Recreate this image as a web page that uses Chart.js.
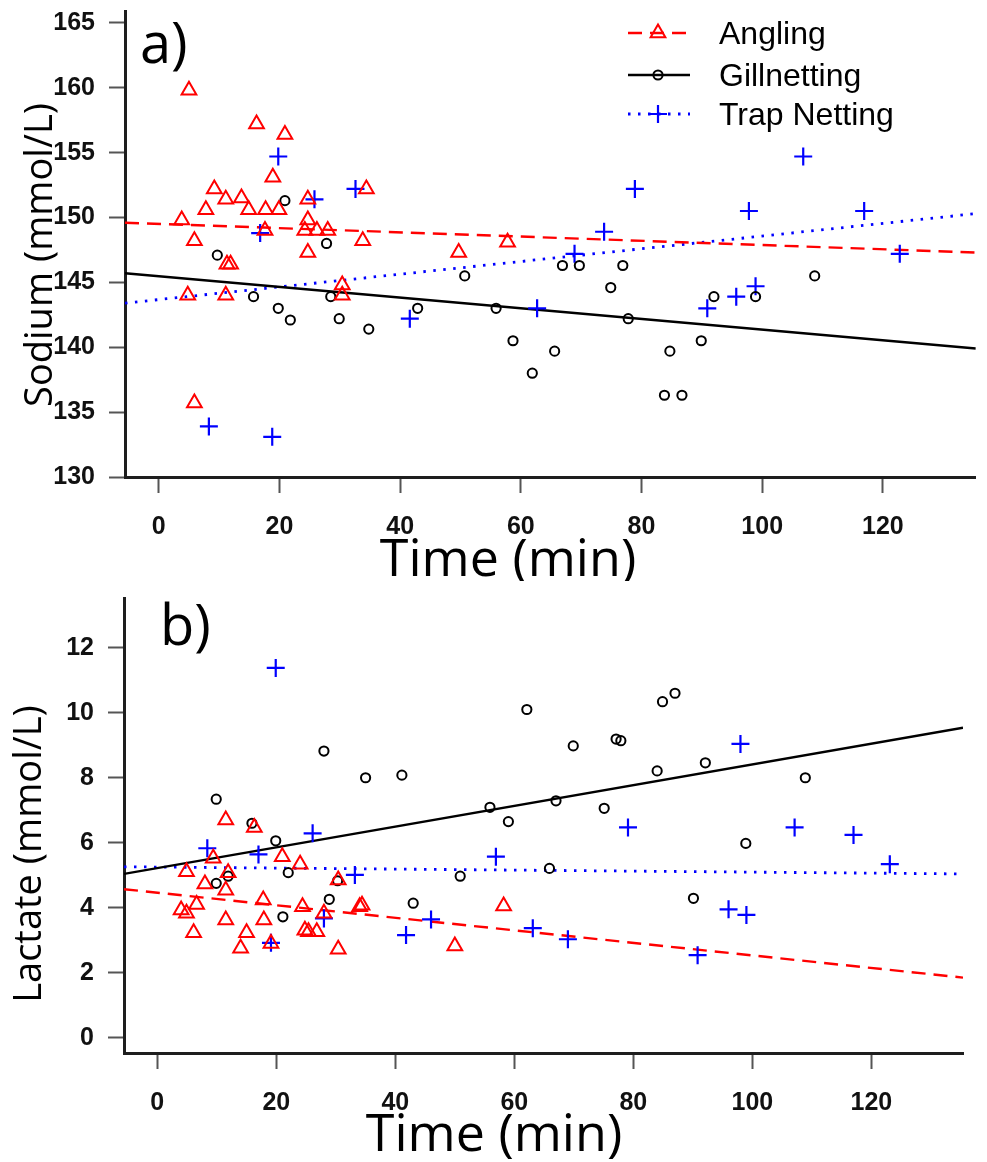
<!DOCTYPE html>
<html>
<head>
<meta charset="utf-8">
<title>Sodium and lactate over time by capture method</title>
<script src="https://cdn.jsdelivr.net/npm/chart.js@4.4.1/dist/chart.umd.min.js"></script>
<style>
    html, body { margin: 0; padding: 0; background: #fff; }
    #wrap { position: relative; width: 987px; height: 1162px; }
    .panel { position: absolute; left: 0; width: 987px; height: 581px; }
    #panelA { top: 0; }
    #panelB { top: 581px; }
</style>
</head>
<body>
<div id="wrap">
    <div class="panel" id="panelA"><canvas id="sodiumChart" width="987" height="581"></canvas></div>
    <div class="panel" id="panelB"><canvas id="lactateChart" width="987" height="581"></canvas></div>
</div>
<script>
// ---- data ----
const groups = ['Angling', 'Gillnetting', 'Trap Netting'];
const timeTicks = [0, 20, 40, 60, 80, 100, 120];
const sodiumTicks = [130, 135, 140, 145, 150, 155, 160, 165];
const lactateTicks = [0, 2, 4, 6, 8, 10, 12];

// a) Sodium (mmol/L)
const anglingTimeA = [5, 16.2, 20.9, 18.9, 9.2, 34.4, 11.1, 13.7, 7.8, 14.9, 17.7, 19.9, 24.7, 3.8, 24.7, 17.6, 24.2, 26.2, 28.0, 5.9, 33.8, 24.7, 11.3, 11.9, 30.4, 4.8, 11.1, 30.4, 5.9, 49.7, 57.8];
const anglingSodium = [159.8, 157.2, 156.4, 153.1, 152.2, 152.2, 151.4, 151.5, 150.6, 150.6, 150.6, 150.6, 151.4, 149.8, 149.8, 149.0, 149.0, 149.0, 149.0, 148.2, 148.2, 147.3, 146.4, 146.4, 144.8, 144.0, 144.0, 144.0, 135.7, 147.3, 148.1];
const gillTimeA = [20.9, 27.8, 9.7, 15.7, 28.5, 19.8, 21.8, 29.9, 34.8, 42.9, 50.7, 55.9, 58.7, 61.9, 65.6, 66.9, 69.7, 74.9, 76.9, 77.8, 83.8, 86.7, 84.7, 89.9, 92.0, 98.9, 108.7];
const gillSodium = [151.3, 148.0, 147.1, 143.9, 143.9, 143.0, 142.1, 142.2, 141.4, 143.0, 145.5, 143.0, 140.5, 138.0, 139.7, 146.3, 146.3, 144.6, 146.3, 142.2, 136.3, 136.3, 139.7, 140.5, 143.9, 143.9, 145.5];
const trapTimeA = [19.8, 25.8, 32.6, 16.8, 41.6, 62.7, 8.3, 18.8, 106.8, 78.9, 97.8, 116.9, 73.8, 68.9, 122.8, 98.9, 95.7, 90.9];
const trapSodium = [154.7, 151.4, 152.2, 148.8, 142.2, 143.0, 133.9, 133.1, 154.7, 152.2, 150.5, 150.5, 148.9, 147.2, 147.2, 144.7, 143.9, 143.0];

// b) Lactate (mmol/L)
const anglingTimeB = [11.5, 16.3, 9.4, 21.0, 24.0, 4.9, 11.9, 8.0, 11.5, 30.4, 17.8, 6.6, 4.0, 4.9, 24.4, 28.0, 34.4, 34.0, 11.5, 17.9, 6.1, 15.0, 24.8, 26.8, 25.4, 14.0, 19.1, 30.4, 50.0, 58.2];
const anglingLactate = [6.70, 6.47, 5.52, 5.57, 5.34, 5.11, 5.08, 4.73, 4.54, 4.85, 4.24, 4.10, 3.93, 3.83, 4.03, 3.83, 4.08, 4.03, 3.62, 3.62, 3.23, 3.23, 3.31, 3.26, 3.26, 2.75, 2.90, 2.72, 2.82, 4.05];
const gillTimeB = [9.9, 15.9, 19.9, 28.0, 35.0, 41.1, 62.1, 55.9, 59.0, 67.0, 65.9, 22.0, 9.9, 11.9, 30.3, 28.9, 43.0, 50.9, 21.1, 84.9, 87.0, 69.9, 77.1, 77.9, 92.1, 84.0, 108.9, 75.1, 98.9, 90.1];
const gillLactate = [7.34, 6.60, 6.06, 8.82, 8.00, 8.08, 10.10, 7.09, 6.65, 7.29, 5.21, 5.08, 4.75, 4.97, 4.83, 4.26, 4.14, 4.97, 3.72, 10.34, 10.60, 8.98, 9.19, 9.14, 8.46, 8.21, 8.00, 7.06, 5.98, 4.29];
const trapTimeB = [19.9, 26.1, 8.4, 17.0, 56.9, 33.2, 28.0, 46.0, 19.1, 41.8, 63.1, 98.0, 79.1, 107.1, 117.0, 123.1, 69.0, 90.8, 96.0, 99.0];
const trapLactate = [11.38, 6.29, 5.83, 5.64, 5.57, 5.01, 3.67, 3.64, 2.92, 3.16, 3.37, 9.04, 6.47, 6.47, 6.24, 5.34, 3.03, 2.54, 3.95, 3.78];

// fitted lines: value at the left and right edge of the time axis
const fitTime = [-5.6, 135.4];
const anglingFitA = [149.6, 147.3];
const gillFitA = [145.7, 139.9];
const trapFitA = [143.4, 150.3];
const anglingFitB = [4.57, 1.85];
const gillFitB = [5.04, 9.54];
const trapFitB = [5.26, 5.04];

// ---- styles ----
const RED = '#ff0000';
const BLUE = '#0000ff';
const BLACK = '#000000';
const tickFamily = "'Liberation Sans', Arial, sans-serif";
const titleFamily = "'Open Sans', 'Noto Sans', sans-serif";

const styles = [
    { color: RED, pointStyle: 'triangle', radius: 8.5, pointWidth: 2, dash: [14, 8], lineWidth: 2.4 },
    { color: BLACK, pointStyle: 'circle', radius: 4.6, pointWidth: 2, dash: [], lineWidth: 2.4 },
    { color: BLUE, pointStyle: 'cross', radius: 9, pointWidth: 2.2, dash: [2.5, 7.5], lineWidth: 2.8 }
];

function toPoints(xs, ys) {
    return xs.map((x, i) => ({ x: x, y: ys[i] }));
}

function pointDataset(i, xs, ys) {
    const s = styles[i];
    return {
        label: groups[i],
        data: toPoints(xs, ys),
        pointStyle: s.pointStyle,
        pointRadius: s.radius,
        pointHoverRadius: s.radius,
        pointBorderWidth: s.pointWidth,
        pointBorderColor: s.color,
        pointBackgroundColor: 'rgba(0,0,0,0)',
        showLine: false
    };
}

function fitDataset(i, ys) {
    const s = styles[i];
    return {
        label: groups[i] + ' fit',
        data: toPoints(fitTime, ys),
        showLine: true,
        borderColor: s.color,
        borderWidth: s.lineWidth,
        borderDash: s.dash,
        pointRadius: 0,
        pointHoverRadius: 0
    };
}

// texts drawn onto each panel (panel letter, axis titles, legend)
const panelDecor = {
    id: 'panelDecor',
    afterDraw(chart, args, opts) {
        const ctx = chart.ctx;
        ctx.save();
        ctx.fillStyle = '#000';

        // panel letter
        ctx.font = '56px ' + titleFamily;
        ctx.textAlign = 'left';
        ctx.textBaseline = 'alphabetic';
        ctx.fillText(opts.letter, opts.letterX, opts.letterY);

        // x title
        ctx.font = '52px ' + titleFamily;
        ctx.textAlign = 'center';
        ctx.fillText(opts.xTitle, opts.xTitleX, opts.xTitleY);

        // y title (rotated)
        ctx.save();
        ctx.translate(opts.yTitleX, opts.yTitleY);
        ctx.rotate(-Math.PI / 2);
        ctx.font = '38px ' + titleFamily;
        ctx.textAlign = 'center';
        ctx.textBaseline = 'middle';
        ctx.fillText(opts.yTitle, 0, 0);
        ctx.restore();

        // legend
        if (opts.legend) {
            const rows = [33, 75, 114];
            styles.forEach((s, i) => {
                const y = rows[i];
                ctx.save();
                ctx.strokeStyle = s.color;
                ctx.lineWidth = s.lineWidth;
                ctx.setLineDash(s.dash);
                ctx.beginPath();
                ctx.moveTo(628, y);
                ctx.lineTo(690, y);
                ctx.stroke();
                ctx.setLineDash([]);
                ctx.lineWidth = s.pointWidth;
                ctx.fillStyle = 'rgba(0,0,0,0)';
                Chart.helpers.drawPoint(ctx, {
                    pointStyle: s.pointStyle,
                    radius: s.radius,
                    rotation: 0,
                    borderWidth: s.pointWidth
                }, 658, y);
                ctx.restore();

                ctx.font = '32px ' + "'Liberation Sans', Arial, sans-serif";
                ctx.textAlign = 'left';
                ctx.textBaseline = 'middle';
                ctx.fillStyle = '#000';
                ctx.fillText(groups[i], 719, y + 2);
            });
        }
        ctx.restore();
    }
};

function makeChart(canvasId, cfg) {
    const ctx = document.getElementById(canvasId);
    return new Chart(ctx, {
        type: 'scatter',
        data: {
            datasets: [
                pointDataset(0, cfg.xs[0], cfg.ys[0]),
                pointDataset(1, cfg.xs[1], cfg.ys[1]),
                pointDataset(2, cfg.xs[2], cfg.ys[2]),
                fitDataset(0, cfg.fits[0]),
                fitDataset(1, cfg.fits[1]),
                fitDataset(2, cfg.fits[2])
            ]
        },
        options: {
            responsive: false,
            animation: false,
            events: [],
            layout: { padding: cfg.padding },
            scales: {
                x: {
                    type: 'linear',
                    min: fitTime[0],
                    max: fitTime[1],
                    afterBuildTicks: scale => { scale.ticks = timeTicks.map(v => ({ value: v })); },
                    afterFit: scale => {
                        scale.height = cfg.xHeight;
                        scale.paddingLeft = 0;
                        scale.paddingRight = 0;
                    },
                    border: { display: true, color: '#1e1e1e', width: 3 },
                    grid: { display: true, drawOnChartArea: false, drawTicks: true, tickLength: 16, tickWidth: 2, tickColor: '#555' },
                    ticks: {
                        padding: 19,
                        color: '#111',
                        maxRotation: 0,
                        autoSkip: false,
                        font: { family: tickFamily, size: 25, weight: 'bold', lineHeight: 1.2 }
                    }
                },
                y: {
                    type: 'linear',
                    min: cfg.yMin,
                    max: cfg.yMax,
                    afterBuildTicks: scale => { scale.ticks = cfg.yTicks.map(v => ({ value: v })); },
                    afterFit: scale => {
                        scale.width = cfg.yWidth;
                        scale.paddingTop = 0;
                        scale.paddingBottom = 0;
                    },
                    border: { display: true, color: '#1e1e1e', width: 3 },
                    grid: { display: true, drawOnChartArea: false, drawTicks: true, tickLength: 16, tickWidth: 2, tickColor: '#555' },
                    ticks: {
                        padding: 14,
                        color: '#111',
                        autoSkip: false,
                        font: { family: tickFamily, size: 25, weight: 'bold', lineHeight: 1.2 }
                    }
                }
            },
            plugins: {
                legend: { display: false },
                tooltip: { enabled: false },
                panelDecor: cfg.decor
            }
        },
        plugins: [panelDecor]
    });
}

document.addEventListener('DOMContentLoaded', function() {
    // a) ナトリウム
    makeChart('sodiumChart', {
        xs: [anglingTimeA, gillTimeA, trapTimeA],
        ys: [anglingSodium, gillSodium, trapSodium],
        fits: [anglingFitA, gillFitA, trapFitA],
        yMin: 130, yMax: 165.9, yTicks: sodiumTicks,
        padding: { top: 10, right: 2, left: 0, bottom: 0 },
        xHeight: 104, yWidth: 125,
        decor: {
            letter: 'a)', letterX: 140, letterY: 63,
            xTitle: 'Time (min)', xTitleX: 508, xTitleY: 576,
            yTitle: 'Sodium (mmol/L)', yTitleX: 41, yTitleY: 255,
            legend: true
        }
    });

    // b) 乳酸
    makeChart('lactateChart', {
        xs: [anglingTimeB, gillTimeB, trapTimeB],
        ys: [anglingLactate, gillLactate, trapLactate],
        fits: [anglingFitB, gillFitB, trapFitB],
        yMin: -0.47, yMax: 13.53, yTicks: lactateTicks,
        padding: { top: 17, right: 24, left: 0, bottom: 0 },
        xHeight: 109, yWidth: 124,
        decor: {
            letter: 'b)', letterX: 160, letterY: 64,
            xTitle: 'Time (min)', xTitleX: 494, xTitleY: 570,
            yTitle: 'Lactate (mmol/L)', yTitleX: 30, yTitleY: 273,
            legend: false
        }
    });
});
</script>
</body>
</html>
